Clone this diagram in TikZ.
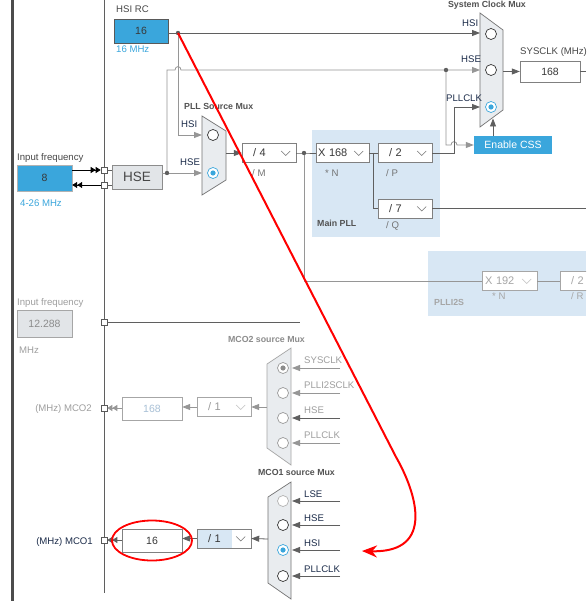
\documentclass[tikz,border=0pt]{standalone}
\usepackage{fontspec}
\setmainfont{Liberation Sans}
\usetikzlibrary{arrows.meta}
\definecolor{cubeblue}{RGB}{58,166,220}
\definecolor{pllfill}{RGB}{216,231,244}
\definecolor{muxfill}{RGB}{233,236,239}
\definecolor{boxgray}{RGB}{226,229,232}
\definecolor{wiredark}{RGB}{95,95,95}
\definecolor{wiresoft}{RGB}{150,150,150}
\definecolor{navy}{RGB}{28,44,74}
\definecolor{paleval}{RGB}{168,192,214}
\begin{document}
\begin{tikzpicture}[x=1pt, y=-1pt,
  >={Triangle[length=8pt,width=6pt]},
  lab/.style={font=\fontsize{9.6}{10}\selectfont, text=black!72, inner sep=0pt},
  inlab/.style={lab, text=navy},
  offlab/.style={lab, text=black!38},
  ttl/.style={font=\fontsize{8.8}{10}\selectfont\bfseries, text=black!68, inner sep=0pt},
  val/.style={draw=black!50, fill=white, inner sep=0pt, font=\fontsize{10.5}{12}\selectfont, text=black!78},
  dd/.style={val, font=\fontsize{11}{12}\selectfont, minimum height=19pt, text width=32pt, inner xsep=11pt, align=left},
  wire/.style={draw=wiredark, line width=0.8pt},
  soft/.style={draw=wiresoft, line width=0.8pt},
  mux/.style={draw=black!55, fill=muxfill, line width=0.7pt},
  radio/.style={draw=black!80, fill=white, line width=0.7pt},
  port/.style={draw=black!65, fill=white, line width=0.6pt, minimum size=6pt, inner sep=0pt},
  dbl/.style={line width=0.8pt, -{Triangle[length=5pt,width=6pt] Triangle[length=5pt,width=6pt]}},
  chev/.style={draw=black!55, line width=0.6pt}]
\useasboundingbox (0,0) rectangle (586,601);
\clip (0,0) rectangle (586,601);
\fill[white] (0,0) rectangle (586,601);
% frame
\draw[black!70, line width=3pt] (12.5,0) -- (12.5,601);
\draw[wire] (104,0) -- (104,593);
% pll areas
\fill[pllfill] (312,130) rectangle (440,237);
\fill[pllfill] (428,251) rectangle (586,316);
\node[ttl, anchor=base west] at (317,226) {Main PLL};
\node[ttl, text=black!35, anchor=base west] at (434,305) {PLLI2S};

% HSI RC
\node[lab, anchor=base west] at (116,13) {HSI RC};
\node[val, fill=cubeblue, draw=black!65, minimum width=54pt, minimum height=24pt] (hsirc) at (141,31) {16};
\node[lab, text=cubeblue, anchor=base west] at (116,53) {16 MHz};
\coordinate (hsidot) at (178,33);

% system clock mux
\draw[mux] (480,13) -- (503,30) -- (503,110) -- (480,127) -- cycle;
\node[ttl, anchor=base] at (487,8) {System Clock Mux};
\draw[radio] (491,34) circle (5.5pt);
\draw[radio] (491,70) circle (5.5pt);
\draw[radio, draw=cubeblue] (491,107) circle (5.5pt);
\fill[cubeblue] (491,107) circle (2.6pt);
\node[inlab, anchor=base west] at (462,27) {HSI};
\node[inlab, anchor=base west] at (461,63) {HSE};
\node[inlab, anchor=base west] at (446,102) {PLLCLK};
\coordinate (sysi) at (480,33);
\coordinate (sysh) at (480,70);
\coordinate (sysp) at (480,107);
\coordinate (sysb) at (493,118.5);
\node[val, minimum width=60pt, minimum height=21pt] (sysclk) at (550,71.5) {168};
\node[lab, anchor=base west] at (520,55) {SYSCLK (MHz)};
\draw[wire, ->] (503,71.5) -- (sysclk.west);
\draw[wire] (sysclk.east) -- (586,71.5);
\node[fill=cubeblue, text=white, font=\fontsize{10.5}{12}\selectfont, minimum width=78pt, minimum height=18pt, inner sep=0pt] (css) at (513,145) {Enable CSS};
\draw[wire, ->] (sysb |- css.north) -- (sysb);

% HSE input
\node[lab, anchor=base west] at (17,161) {Input frequency};
\node[val, fill=cubeblue, draw=black!30, minimum width=55pt, minimum height=26pt] (hsein) at (44.5,178) {8};
\node[lab, text=cubeblue, anchor=base west] at (20,207) {4-26 MHz};
\node[port] (oscin) at (104,170) {};
\node[port] (oscout) at (104,185) {};
\node[val, fill=boxgray, draw=black!45, minimum width=50pt, minimum height=24pt, font=\fontsize{13.5}{14}\selectfont, text=black!72] (hse) at (137,177) {HSE};
\draw[dbl] (hsein.east |- oscin) -- (oscin.west);
\draw[dbl] (oscout.west) -- (hsein.east |- oscout);
\draw[wire] (oscin.east) -- (hse.west |- oscin);
\draw[wire] (oscout.east) -- (hse.west |- oscout);
\coordinate (hsedot) at (167,173);
\coordinate (cssdot) at (446,70);

% PLL source mux
\draw[mux] (202,116) -- (226,131) -- (226,180) -- (202,195) -- cycle;
\node[ttl, anchor=base west] at (184,110) {PLL Source Mux};
\draw[radio] (213,135) circle (5.5pt);
\draw[radio, draw=cubeblue] (213,173) circle (5.5pt);
\fill[cubeblue] (213,173) circle (2.6pt);
\node[inlab, anchor=base west] at (181,128) {HSI};
\node[inlab, anchor=base west] at (180,166) {HSE};
\coordinate (plli) at (202,135);
\coordinate (pllh) at (202,173);
\coordinate (pllout) at (226,153);

% main PLL
\node[dd] (divm) at (269,153) {/ 4};
\node[lab, text=black!55, anchor=base west] at (252,177) {/ M};
\coordinate (mdot) at (304,153);
\node[dd, text width=49pt, inner xsep=2pt] (muln) at (342.5,153) {X 168};
\node[lab, text=black!55, anchor=base west] at (325,177) {* N};
\node[dd] (divp) at (405,153) {/ 2};
\node[lab, text=black!55, anchor=base west] at (386,177) {/ P};
\node[dd] (divq) at (405,208.5) {/ 7};
\node[lab, text=black!55, anchor=base west] at (386,229) {/ Q};

% PLLI2S
\node[dd, text width=49pt, inner xsep=3pt, draw=black!35, text=black!35] (i2sn) at (509.5,281) {X 192};
\node[lab, text=black!35, anchor=base west] at (492,299) {* N};
\node[dd, draw=black!35, text=black!35] (i2sr) at (587,281) {/ 2};
\node[lab, text=black!35, anchor=base west] at (571,299) {/ R};

\foreach \b in {divm,muln,divp,divq}
  \draw[chev] ([shift={(-15,-2)}]\b.east) -- ++(4.5,4.5) -- ++(4.5,-4.5);
\foreach \b in {i2sn,i2sr}
  \draw[chev, draw=black!25] ([shift={(-15,-2)}]\b.east) -- ++(4.5,4.5) -- ++(4.5,-4.5);

% clock wires
\draw[wire] (hsirc.east |- hsidot) -- (hsidot);
\draw[wire, ->] (hsidot) -- (sysi);
\draw[soft, ->] (hsidot) |- (plli);
\draw[soft, ->] (hse.east |- hsedot) -- (pllh);
\draw[soft, ->] (hsedot) -- (167,70) -- (175,70) .. controls (175,65.5) and (181,65.5) .. (181,70) -- (cssdot) -- (sysh);
\draw[soft, ->] (cssdot) -- (446,145) -- (451,145) .. controls (451,140.5) and (457,140.5) .. (457,145) -- (css.west);
\draw[wire, ->] (pllout) -- (divm.west);
\draw[wire] (divm.east) -- (mdot) -- (muln.west);
\draw[soft] (mdot) |- (i2sn.west);
\draw[soft] (i2sn.east) -- (i2sr.west);
\draw[wire] (muln.east) -- (divp.west);
\draw[wire] (373,153) |- (divq.west);
\draw[wire] (divq.east) -- (586,208.5);
\draw[wire, ->] (divp.east) -- (454,153) |- (sysp);
\fill[wiredark] (hsidot) circle (2.2pt);
\fill[wiredark] (hsedot) circle (2.2pt);
\fill[wiredark] (cssdot) circle (2.2pt);
\fill[wiredark] (mdot) circle (2.2pt);

% second input
\node[offlab, anchor=base west] at (17,305) {Input frequency};
\node[val, fill=boxgray, draw=black!35, text=black!45, minimum width=55pt, minimum height=27pt] (i2sin) at (44.5,323.5) {12.288};
\node[offlab, anchor=base west] at (19,353) {MHz};
\node[port] (ckin) at (104,322) {};
\coordinate (ckend) at (300,322);
\draw[wire] (ckin.east) -- (ckend);

% MCO2
\draw[mux, draw=black!35] (291,348) -- (267,364) -- (267,448) -- (291,465) -- cycle;
\node[ttl, text=black!45, anchor=base] at (266.5,342) {MCO2 source Mux};
\foreach \y/\name/\c in {368/SYSCLK/wiresoft, 393/PLLI2SCLK/wiresoft, 418/HSE/wiredark, 443/PLLCLK/wiresoft} {
  \draw[radio, draw=black!40] (283,\y) circle (5.5pt);
  \node[offlab, anchor=base west] at (304,\y-5) {\name};
  \coordinate (mtwo\y) at (292,\y);
  \draw[wire, draw=\c, ->] (340,\y) -- (mtwo\y);
}
\fill[black!45] (283,368) circle (2.6pt);
\coordinate (mtwoout) at (267,407);
\node[dd, draw=black!35, text=black!40] (mco2div) at (224,407) {/ 1};
\node[val, draw=black!35, text=paleval, minimum width=60pt, minimum height=23pt] (mco2val) at (152,408.5) {168};
\node[port] (mco2pin) at (104,408) {};
\node[offlab, anchor=base east] at (92,411) {(MHz) MCO2};
\draw[chev, draw=black!25] ([shift={(-15,-2)}]mco2div.east) -- ++(4.5,4.5) -- ++(4.5,-4.5);
\draw[soft, ->] (mtwoout) -- (mco2div.east);
\draw[soft, ->] (mco2div.west) -- (mco2val.east |- mco2div.west);
\draw[soft, dbl] (mco2val.west |- mco2pin) -- (mco2pin.east);

% MCO1
\draw[mux] (291,482) -- (268,497) -- (268,583) -- (291,599) -- cycle;
\node[ttl, anchor=base] at (296.5,475) {MCO1 source Mux};
\foreach \y/\name/\c in {501/LSE/black!30, 525/HSE/black!80, 550/HSI/cubeblue, 576/PLLCLK/black!80} {
  \draw[radio, draw=\c] (283,\y) circle (5.5pt);
  \node[inlab, anchor=base west] at (304,\y-4) {\name};
  \coordinate (mone\y) at (292,\y);
  \draw[wire, ->] (340,\y) -- (mone\y);
}
\fill[cubeblue] (283,550) circle (2.6pt);
\coordinate (moneout) at (268,539);
\node[dd, path picture={\fill[pllfill] (path picture bounding box.north west) rectangle ([xshift=-19pt]path picture bounding box.south east);}] (mco1div) at (224,538.5) {/ 1};
\node[val, minimum width=60pt, minimum height=23pt] (mco1val) at (152,540.5) {16};
\node[port] (mco1pin) at (104,540) {};
\node[inlab, anchor=base east] at (93,544) {(MHz) MCO1};
\draw[chev] ([shift={(-15,-2)}]mco1div.east) -- ++(4.5,4.5) -- ++(4.5,-4.5);
\draw[wire, ->] (moneout) -- (mco1div.east);
\draw[wire, ->] (mco1div.west) -- (mco1val.east |- mco1div.west);
\draw[wire, dbl] (mco1val.west |- mco1pin) -- (mco1pin.east);

% highlight
\draw[red, line width=1.8pt] (mco1val.center) ellipse [x radius=40pt, y radius=20pt];
\coordinate (bend) at (396,457);
\coordinate (hsitip) at (362,551);
\draw[red, line width=2pt, -{Stealth[length=15pt,width=12pt]}] (hsidot) -- (bend) .. controls (416,492) and (436,553) .. (hsitip);
\end{tikzpicture}
\end{document}
